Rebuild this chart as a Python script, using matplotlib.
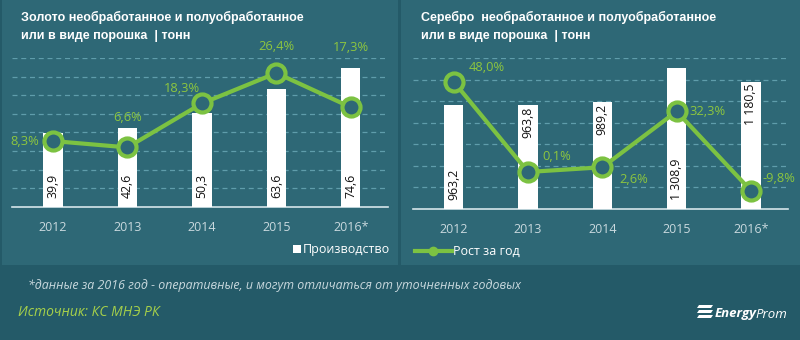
import matplotlib
matplotlib.use('Agg')
import matplotlib.pyplot as plt
from matplotlib.patches import Rectangle, Polygon
from matplotlib.lines import Line2D

years = ['2012', '2013', '2014', '2015', '2016*']
gold_prod = [39.9, 42.6, 50.3, 63.6, 74.6]
gold_growth = [8.3, 6.6, 18.3, 26.4, 17.3]
silver_prod = [963.2, 963.8, 989.2, 1308.9, 1180.5]
silver_growth = [48.0, 0.1, 2.6, 32.3, -9.8]

OUTER = '#245a68'
PANEL = '#2e6876'
GREEN = '#7cc242'
LGREEN = '#8dc63f'
GRID = '#5f9dab'
TICK = '#c9d9de'
FONT = ['Open Sans', 'DejaVu Sans']

plt.rcParams['font.family'] = FONT

def fmt(v, dec=1):
    return f"{v:,.{dec}f}".replace(',', ' ').replace('.', ',')

fig = plt.figure(figsize=(8, 3.4), dpi=100, facecolor=OUTER)
W, H = 800, 340

def px(x0, y0, w, h):   # px coords (top-left origin) -> figure fraction
    return [x0 / W, 1 - (y0 + h) / H, w / W, h / H]

# panel backgrounds
for x0, w in [(2, 396), (401, 399)]:
    fig.add_artist(Rectangle((x0 / W, 1 - 265 / H), w / W, 265 / H,
                             transform=fig.transFigure, fc=PANEL, ec='none', zorder=0))

def panel(rect, prod, growth, ymax, ystep, plim, lab_off, val_top, title, tx):
    ax = fig.add_axes(px(*rect))
    ax.patch.set_alpha(0)
    x = range(len(years))
    ax.bar(x, prod, width=0.26, color='white', zorder=3)
    ax.set_ylim(0, ymax); ax.set_xlim(-0.55, 4.5)
    for g in range(ystep, ymax + 1, ystep):
        ax.axhline(g, color=GRID, lw=0.9, ls=(0, (4, 3)), zorder=1)
    for s in ['top', 'right', 'left']:
        ax.spines[s].set_visible(False)
    ax.spines['bottom'].set_color('#d6e6ea'); ax.spines['bottom'].set_linewidth(1.2)
    ax.set_yticks([])
    ax.set_xticks(list(x)); ax.set_xticklabels(years, color=TICK, fontsize=9)
    ax.tick_params(axis='x', length=0, pad=10)
    for i, v in enumerate(prod):
        if val_top[i]:
            ax.text(i, v - ymax * 0.012, fmt(v), rotation=90, ha='center', va='top',
                    fontsize=8.8, color='#111111', zorder=4)
        else:
            ax.text(i, ymax * 0.06, fmt(v), rotation=90, ha='center', va='bottom',
                    fontsize=8.8, color='#111111', zorder=4)
    a2 = ax.twinx()
    a2.set_ylim(*plim); a2.axis('off')
    a2.plot(list(x), growth, color=GREEN, lw=3, marker='o', ms=13, mfc=PANEL,
            mec=GREEN, mew=3, zorder=5)
    for i, v in enumerate(growth):
        a2.annotate(fmt(v) + '%', (i, v), xytext=lab_off[i], textcoords='offset pixels',
                    ha='center', va='center', color=LGREEN, fontsize=9.3)
    # title, one text per line
    for k, line in enumerate(title):
        fig.text(tx / W, 1 - (17 + 19 * k) / H, line, ha='left', va='center',
                 color='white', fontsize=9, fontweight='bold',
                 family=['Liberation Sans', 'DejaVu Sans'])
    return ax

panel((12, 58, 376, 149), gold_prod, gold_growth, 80, 10, (-9.26, 30.4),
      [(-28, 0), (0, 30), (-20, 15), (0, 27), (0, 60)], [False] * 5,
      ['Золото необработанное и полуобработанное', 'или в виде порошка  | тонн'], 21)
panel((413, 58, 375, 151), silver_prod, silver_growth, 1400, 200, (-19.6, 60.7),
      [(33, 14), (29, 15), (31, -12), (31, 0), (28, 12)],
      [False, True, True, False, True],
      ['Серебро  необработанное и полуобработанное', 'или в виде порошка  | тонн'], 421)

# legends
fig.add_artist(Rectangle((293 / W, 1 - 253 / H), 8 / W, 8 / H, transform=fig.transFigure,
                         fc='white', ec='none'))
fig.text(303 / W, 1 - 249 / H, 'Производство', color='white', fontsize=9, va='center')
fig.add_artist(Line2D([415 / W, 452 / W], [1 - 251 / H] * 2, transform=fig.transFigure,
                      color=GREEN, lw=3))
fig.add_artist(Line2D([433 / W], [1 - 251 / H], transform=fig.transFigure, marker='o',
                      ms=6, color=GREEN))
fig.text(453 / W, 1 - 251 / H, 'Рост за год', color='white', fontsize=9, va='center')

# footnotes
fig.text(28 / W, 1 - 285 / H,
         '*данные за 2016 год - оперативные, и могут отличаться от уточненных годовых',
         color='#c9d9de', fontsize=8.9, style='italic', va='center')
fig.text(18 / W, 1 - 313 / H, 'Источник: КС МНЭ РК', color='#a6d04a', fontsize=10,
         style='italic', va='center')

# logo
for k in range(3):
    y = 305 + k * 5
    fig.add_artist(Polygon([[697 / W, 1 - (y + 3) / H], [711 / W, 1 - (y + 3) / H],
                            [713 / W, 1 - y / H], [699 / W, 1 - y / H]],
                           closed=True, transform=fig.transFigure, fc='white', ec='none'))
fig.text(715 / W, 1 - 314 / H, 'Energy', color='white', fontsize=9.5, fontweight='bold',
         style='italic', va='center')
fig.text(755 / W, 1 - 314 / H, 'Prom', color='white', fontsize=9.5, style='italic',
         va='center')

fig.savefig('out.png', dpi=100, facecolor=OUTER)
